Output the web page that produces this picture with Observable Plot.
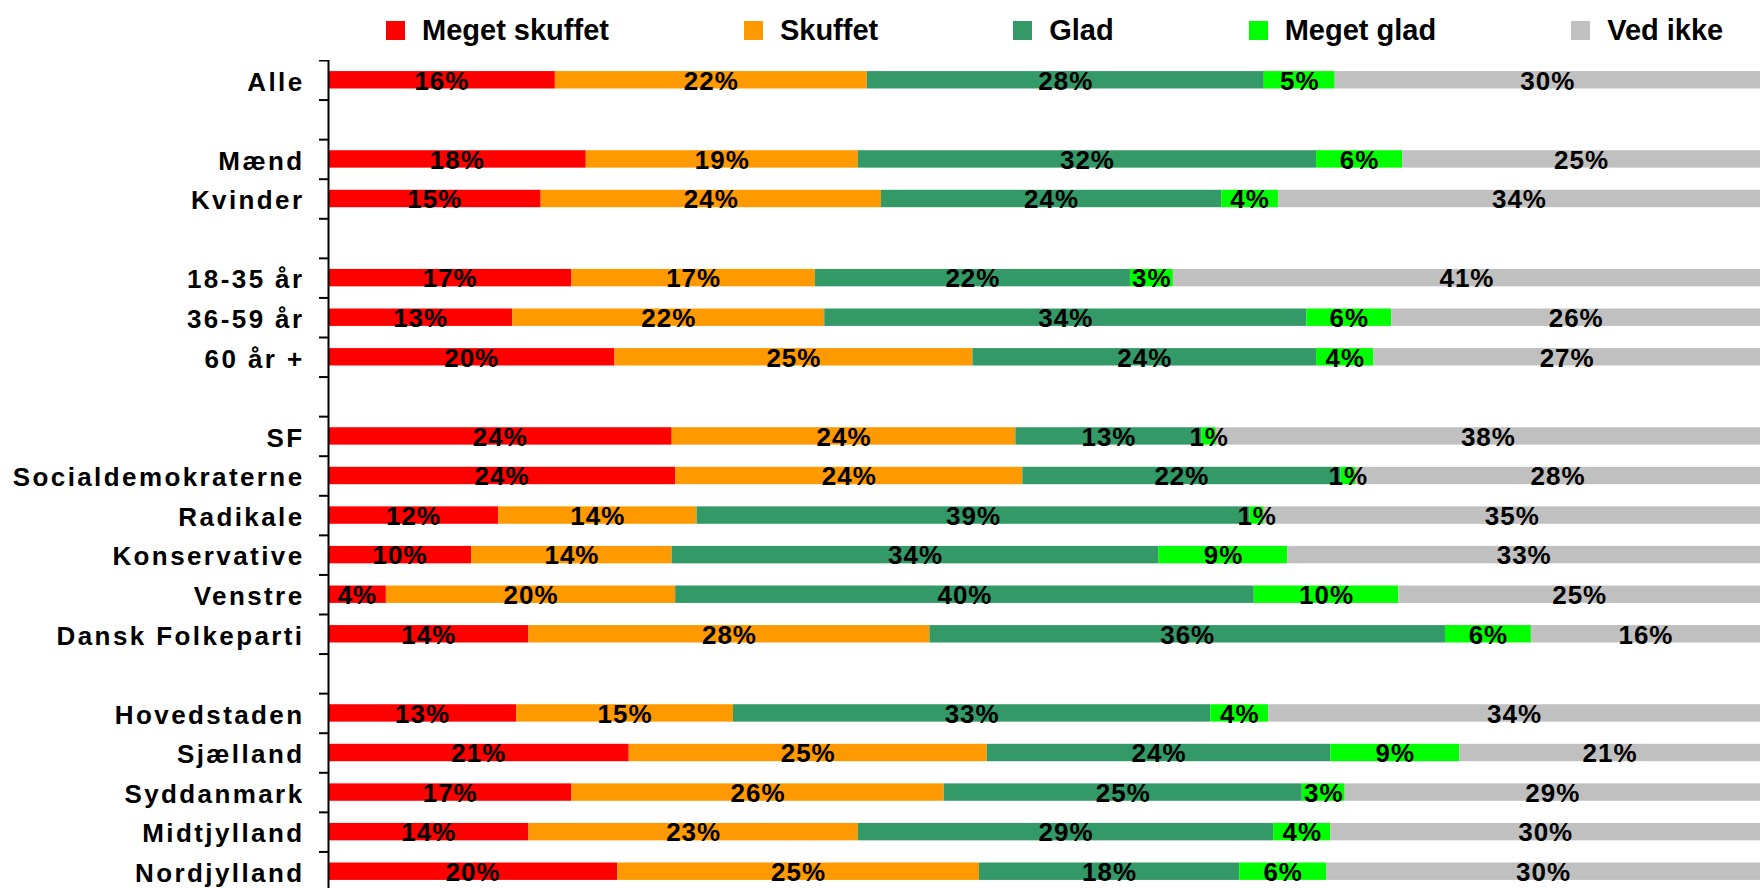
<!DOCTYPE html>
<html>
<head>
<meta charset="utf-8">
<script src="https://cdn.jsdelivr.net/npm/d3@7"></script>
<script src="https://cdn.jsdelivr.net/npm/@observablehq/plot@0.6"></script>
<style>
  html, body { margin: 0; padding: 0; background: #fff; overflow: hidden; }
  body { font-family: "Liberation Sans", Arial, sans-serif; font-weight: bold; }
  #legend { height: 60px; display: flex; align-items: center; padding-left: 386px; box-sizing: border-box; font-size: 29px; color: #000; white-space: nowrap; overflow: hidden; }
  #legend .item { display: flex; align-items: center; margin-right: 135px; flex-shrink: 0; }
  #legend .item:last-child { margin-right: 0; }
  #legend .sw { width: 19px; height: 19px; margin-right: 17px; flex-shrink: 0; }
  #chart svg { display: block; }
  g[aria-label="y-axis tick label"] text { letter-spacing: 2.4px; }
  g[aria-label="text"] text { letter-spacing: 1px; }
</style>
</head>
<body>
<div id="legend"></div>
<div id="chart"></div>
<script>
// Response categories and colours
const categories = ["Meget skuffet", "Skuffet", "Glad", "Meget glad", "Ved ikke"];
const colors = ["#FF0000", "#FF9900", "#339966", "#00FF00", "#C0C0C0"];

// Row groups (a blank row separates groups)
const groups = [
  ["Alle"],
  ["Mænd", "Kvinder"],
  ["18-35 år", "36-59 år", "60 år +"],
  ["SF", "Socialdemokraterne", "Radikale", "Konservative", "Venstre", "Dansk Folkeparti"],
  ["Hovedstaden", "Sjælland", "Syddanmark", "Midtjylland", "Nordjylland"]
];

// Series values (percent), in row order
const megetSkuffet = [16, 18, 15, 17, 13, 20, 24, 24, 12, 10, 4, 14, 13, 21, 17, 14, 20];
const skuffet      = [22, 19, 24, 17, 22, 25, 24, 24, 14, 14, 20, 28, 15, 25, 26, 23, 25];
const glad         = [28, 32, 24, 22, 34, 24, 13, 22, 39, 34, 40, 36, 33, 24, 25, 29, 18];
const megetGlad    = [5, 6, 4, 3, 6, 4, 1, 1, 1, 9, 10, 6, 4, 9, 3, 4, 6];
const vedIkke      = [30, 25, 34, 41, 26, 27, 38, 28, 35, 33, 25, 16, 34, 21, 29, 30, 30];

const series = [megetSkuffet, skuffet, glad, megetGlad, vedIkke];

// Build the row domain with gap rows
const rows = [];
groups.forEach((g, i) => {
  if (i > 0) rows.push("gap" + i);
  g.forEach(r => rows.push(r));
});
const labels = groups.flat();

const data = [];
labels.forEach((row, i) => {
  categories.forEach((cat, j) => {
    data.push({row, cat, value: series[j][i]});
  });
});

// Legend
const legend = document.getElementById("legend");
categories.forEach((c, i) => {
  const item = document.createElement("div");
  item.className = "item";
  const sw = document.createElement("div");
  sw.className = "sw";
  sw.style.background = colors[i];
  const t = document.createElement("span");
  t.textContent = c;
  item.appendChild(sw);
  item.appendChild(t);
  legend.appendChild(item);
});

const height = 831;
const step = height / rows.length;

const chart = Plot.plot({
  width: 1760,
  height,
  marginLeft: 328,
  marginRight: 0,
  marginTop: 0,
  marginBottom: 0,
  style: {fontFamily: "'Liberation Sans', Arial, sans-serif", fontWeight: "bold", color: "#000", background: "#fff"},
  x: {axis: null, domain: [0, 1]},
  y: {domain: rows, paddingInner: 0.56, paddingOuter: 0.28, round: false, axis: null, label: null},
  color: {domain: categories, range: colors},
  marks: [
    Plot.barX(data, Plot.stackX({x: "value", y: "row", fill: "cat", offset: "normalize"})),
    Plot.textX(data, Plot.stackX({x: "value", y: "row", z: "cat", offset: "normalize",
      text: d => d.value + "%", fill: "#000", fontSize: 26, fontWeight: "bold", dy: 1})),
    Plot.axisY({tickSize: 0, tickPadding: 24, fontSize: 26, fontWeight: "bold", label: null,
      tickFormat: d => d.startsWith("gap") ? "" : d, dy: 2}),
    Plot.axisY({tickSize: 9, strokeWidth: 2, label: null, tickFormat: () => "", dy: -step / 2}),
    Plot.ruleX([0], {stroke: "#000", strokeWidth: 2})
  ]
});
document.getElementById("chart").appendChild(chart);
</script>
</body>
</html>
